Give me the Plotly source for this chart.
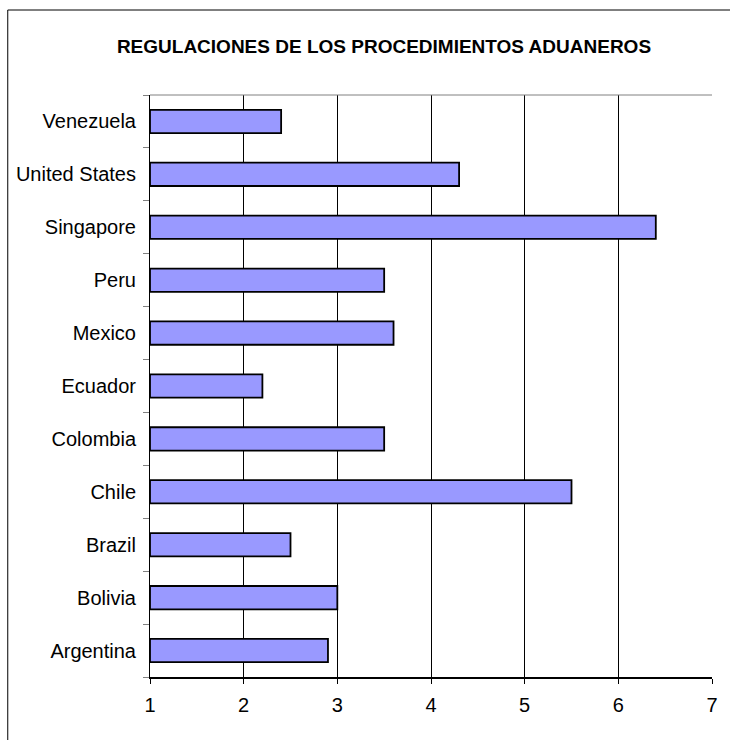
import plotly.graph_objects as go

# Customs-procedure regulation scores by country (bottom to top)
countries = ["Argentina", "Bolivia", "Brazil", "Chile", "Colombia", "Ecuador",
             "Mexico", "Peru", "Singapore", "United States", "Venezuela"]
scores = [2.9, 3.0, 2.5, 5.5, 3.5, 2.2, 3.6, 3.5, 6.4, 4.3, 2.4]
x_ticks = [1, 2, 3, 4, 5, 6, 7]
title_text = "REGULACIONES DE LOS PROCEDIMIENTOS ADUANEROS"

FONT = "Liberation Sans, Arial, sans-serif"

# Bars start at the axis minimum (1), so base them there
fig = go.Figure(
    go.Bar(
        y=countries,
        x=[s - 1 for s in scores],
        base=1,
        orientation="h",
        width=0.44,
        marker=dict(color="#9999FF", line=dict(color="#000000", width=1.8)),
        hoverinfo="skip",
    )
)

fig.update_layout(
    width=730,
    height=740,
    margin=dict(l=150, r=15, t=95, b=63),
    paper_bgcolor="white",
    plot_bgcolor="white",
    showlegend=False,
    title=dict(
        text=f"<b>{title_text}</b>",
        x=0.526,
        xanchor="center",
        y=1 - 46 / 740,
        yanchor="middle",
        font=dict(family=FONT, size=19, color="#000000"),
    ),
    font=dict(family=FONT, color="#000000"),
)

fig.update_xaxes(
    range=[1, 7],
    tickvals=x_ticks,
    ticktext=[str(v) for v in x_ticks],
    showgrid=True,
    gridcolor="#000000",
    gridwidth=1,
    showline=True,
    linecolor="#000000",
    linewidth=1.5,
    ticks="outside",
    ticklen=5,
    tickcolor="#000000",
    ticklabelstandoff=4,
    tickfont=dict(family=FONT, size=20, color="#000000"),
    zeroline=False,
    fixedrange=True,
)

fig.update_yaxes(
    type="category",
    categoryorder="array",
    categoryarray=countries,
    showgrid=False,
    showline=True,
    linecolor="#000000",
    linewidth=1,
    ticks="outside",
    tickson="boundaries",
    ticklen=6,
    tickcolor="#808080",
    ticklabelstandoff=9,
    tickfont=dict(family=FONT, size=20, color="#000000"),
    fixedrange=True,
)

# Plot-area top edge (grey) and the outer chart frame
fig.add_shape(type="line", xref="paper", yref="paper", x0=0, x1=1, y0=1, y1=1,
              line=dict(color="#808080", width=1))
fig.add_shape(type="rect", xref="paper", yref="paper",
              x0=(7 - 150) / 565, x1=(745 - 150) / 565,
              y0=(677 - 760) / 582, y1=(677 - 10) / 582,
              line=dict(color="#000000", width=1), fillcolor="rgba(0,0,0,0)",
              layer="below")

fig.write_html("out.html")
